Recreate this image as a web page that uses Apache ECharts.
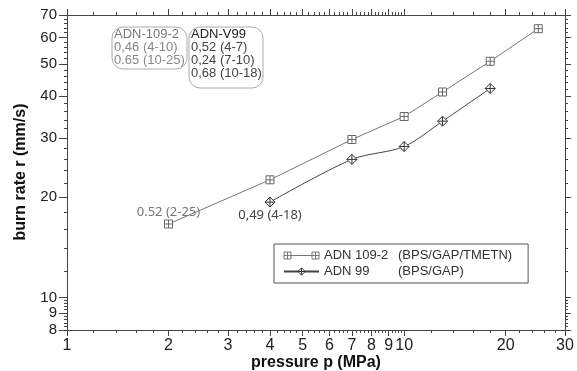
<!DOCTYPE html>
<html>
<head>
<meta charset="utf-8">
<script src="https://cdn.jsdelivr.net/npm/echarts@6/dist/echarts.min.js"></script>
<style>
  html, body { margin: 0; padding: 0; background: #fff; }
  #chart { width: 577px; height: 371px; }
</style>
</head>
<body>
<div id="chart"></div>
<script>
// ADN 109-2 (BPS/GAP/TMETN)
const pressure109 = [2, 4, 7, 10, 13, 18, 25]
const rate109 = [16.6, 22.5, 29.7, 34.8, 41.2, 50.9, 63.7]
// ADN 99 (BPS/GAP)
const pressure99 = [4, 7, 10, 13, 18]
const rate99 = [19.3, 25.9, 28.3, 33.7, 42.2]

const xLabels = [1, 2, 3, 4, 5, 6, 7, 8, 9, 10, 20, 30]
const yLabels = [8, 9, 10, 20, 30, 40, 50, 60, 70]

// minor tick positions
function steps(from, to, step) {
  const out = []
  for (let v = from; v < to - 1e-9; v += step) out.push(Math.round(v * 100) / 100)
  return out
}
const xMinor = steps(1, 10, 0.2).concat(steps(10, 30, 2))
const yMinor = steps(8, 10, 0.2).concat(steps(10, 70, 2))

const SQUARE = 'path://M0,0H10V10H0ZM5,0V10M0,5H10'
const DIAMOND = 'path://M5,0L10,5L5,10L0,5ZM5,0V10M0,5H10'
const LEGEND_SQ = 'path://M0,0H7V7H0ZM3.5,0V7M0,3.5H7M7,3.5H28M28,0H35V7H28ZM31.5,0V7M28,3.5H35'

const axisColor = '#444'
const font = 'Liberation Sans'

function logAxis(pos, min, max, ticks, len, label) {
  return {
    type: 'log',
    position: pos,
    min: min,
    max: max,
    axisLine: { show: true, lineStyle: { color: axisColor } },
    axisTick: { show: true, length: len, customValues: ticks, lineStyle: { color: axisColor } },
    axisLabel: label || { show: false },
    splitLine: { show: false }
  }
}

const chart = echarts.init(document.getElementById('chart'))

const firstLabel109 = {
  show: true,
  formatter: '0.52 (2-25)',
  position: 'top',
  distance: 1,
  color: '#777',
  fontFamily: 'Noto Sans',
  fontSize: 13
}
const firstLabel99 = {
  show: true,
  formatter: '0,49 (4-18)',
  position: 'bottom',
  distance: 1,
  color: '#444',
  fontFamily: 'Noto Sans',
  fontSize: 13
}

const data109 = pressure109.map((p, i) => i === 0 ? { value: [p, rate109[i]], label: firstLabel109 } : [p, rate109[i]])
const data99 = pressure99.map((p, i) => i === 0 ? { value: [p, rate99[i]], label: firstLabel99 } : [p, rate99[i]])

// annotation boxes
const box1 = ['ADN-109-2', '0,46 (4-10)', '0.65 (10-25)']
const box2 = ['ADN-V99', '0,52 (4-7)', '0,24 (7-10)', '0,68 (10-18)']

function boxGraphic(x, y, w, h, lines, headColor, bodyColor) {
  const items = [{
    type: 'rect',
    shape: { x: x, y: y, width: w, height: h, r: 11 },
    style: { fill: 'none', stroke: '#aaa', lineWidth: 1 }
  }]
  lines.forEach((t, i) => {
    items.push({
      type: 'text',
      x: x + 2,
      y: y + 7.5 + i * 13,
      style: {
        text: t,
        fill: i === 0 ? headColor : bodyColor,
        font: '13px "Liberation Sans"',
        textVerticalAlign: 'middle'
      }
    })
  })
  return items
}

// axis titles
const titles = [
  {
    type: 'text',
    x: 316,
    y: 363,
    style: { text: 'pressure p (MPa)', font: 'bold 16px "Liberation Sans"', fill: '#111', textAlign: 'center', textVerticalAlign: 'middle' }
  },
  {
    type: 'text',
    x: 21,
    y: 172,
    rotation: Math.PI / 2,
    style: { text: 'burn rate r (mm/s)', font: 'bold 16px "Liberation Sans"', fill: '#111', textAlign: 'center', textVerticalAlign: 'middle' }
  }
]

chart.setOption({
  animation: false,
  grid: { left: 67, right: 12, top: 15, bottom: 41 },
  xAxis: [
    logAxis('bottom', 1, 30, xLabels, 6, {
      show: true,
      customValues: xLabels,
      margin: 8,
      fontSize: 16,
      fontFamily: font,
      color: '#222'
    }),
    logAxis('bottom', 1, 30, xMinor, 3),
    logAxis('top', 1, 30, xLabels, 6),
    logAxis('top', 1, 30, xMinor, 3)
  ],
  yAxis: [
    logAxis('left', 8, 70, yLabels, 8, {
      show: true,
      customValues: yLabels,
      margin: 10,
      fontSize: 15,
      fontFamily: font,
      color: '#222'
    }),
    logAxis('left', 8, 70, yMinor, 3),
    logAxis('right', 8, 70, yLabels, 6),
    logAxis('right', 8, 70, yMinor, 3)
  ],
  legend: {
    left: 274,
    top: 244,
    orient: 'vertical',
    padding: [5, 16, 5, 9],
    itemGap: 3,
    itemWidth: 35,
    itemHeight: 9,
    borderColor: '#555',
    borderWidth: 1,
    borderRadius: 0,
    selectedMode: false,
    textStyle: {
      fontFamily: font,
      fontSize: 13,
      color: '#333',
      rich: {
        a: { width: 74, fontFamily: font, fontSize: 13, color: '#333' },
        b: { fontFamily: font, fontSize: 13, color: '#333' }
      }
    },
    formatter: name => {
      const parts = name.split('|')
      return '{a|' + parts[0] + '}{b|' + parts[1] + '}'
    },
    data: [
      { name: 'ADN 109-2|(BPS/GAP/TMETN)', icon: LEGEND_SQ, itemStyle: { color: '#fff', borderColor: '#777', borderWidth: 1 } },
      { name: 'ADN 99|(BPS/GAP)', itemStyle: { color: '#fff', borderColor: '#333', borderWidth: 1 } }
    ]
  },
  graphic: boxGraphic(112, 27, 75, 42, box1, '#777', '#888')
    .concat(boxGraphic(189, 27, 74, 61, box2, '#222', '#444'))
    .concat(titles),
  series: [
    {
      name: 'ADN 109-2|(BPS/GAP/TMETN)',
      type: 'line',
      data: data109,
      symbol: SQUARE,
      symbolSize: 8,
      lineStyle: { color: '#777', width: 1 },
      itemStyle: { color: '#fff', borderColor: '#666', borderWidth: 1 }
    },
    {
      name: 'ADN 99|(BPS/GAP)',
      type: 'line',
      data: data99,
      smooth: 0.3,
      symbol: DIAMOND,
      symbolSize: 10,
      lineStyle: { color: '#444', width: 1 },
      itemStyle: { color: '#fff', borderColor: '#333', borderWidth: 1 }
    }
  ]
})
</script>
</body>
</html>
